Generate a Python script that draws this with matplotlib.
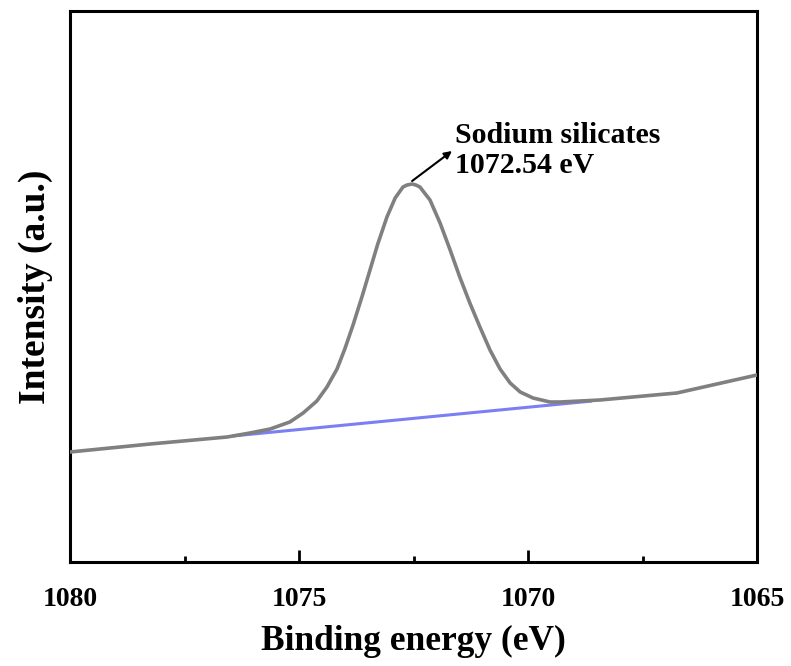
import matplotlib
matplotlib.use("Agg")
import matplotlib.pyplot as plt

# Binding energy (eV) and intensity (a.u.)
energy = [1080.0, 1078.25, 1076.57, 1076.07, 1075.63, 1075.20, 1074.91, 1074.61,
          1074.39, 1074.17, 1074.00, 1073.82, 1073.62, 1073.45, 1073.28, 1073.08,
          1072.90, 1072.73, 1072.64, 1072.53, 1072.45, 1072.36, 1072.14, 1071.92,
          1071.70, 1071.49, 1071.27, 1071.05, 1070.83, 1070.61, 1070.39, 1070.17,
          1069.89, 1069.52, 1069.30, 1068.43, 1066.75, 1065.0]
intensity = [110, 118, 125, 129, 133, 140, 149, 161,
             175, 193, 213, 237, 266, 292, 318, 345,
             364, 375, 377, 378, 377, 375, 362, 339,
             312, 285, 259, 235, 212, 193, 179, 170,
             164, 160, 160, 162, 169, 187]

baseline_energy = [1076.45, 1068.6]
baseline_intensity = [126, 161]

xticks = [1080, 1075, 1070, 1065]
minor_ticks = [1077.5, 1072.5, 1067.5]
peak_label = "Sodium silicates\n1072.54 eV"
arrow_tail = (1072.53, 381)
arrow_head = (1071.66, 411)
label_pos = (1071.59, 411.5)

plt.rcParams['font.family'] = ['Liberation Serif', 'DejaVu Serif']
plt.rcParams['font.weight'] = 'bold'

fig = plt.figure(figsize=(7.91, 6.66), dpi=100)
ax = fig.add_axes([70/791, 1-562/666, 687/791, 551/666])

ax.plot(baseline_energy, baseline_intensity, color='#7b7ff2', lw=2.2,
        solid_capstyle='butt', zorder=2)
ax.plot(energy, intensity, color='#808080', lw=2.6, zorder=3,
        solid_joinstyle='round')

ax.set_xlim(1080, 1065)
ax.set_ylim(0, 551)
ax.set_xticks(xticks)
ax.set_xticks(minor_ticks, minor=True)
ax.set_xticklabels([str(t) for t in xticks], fontsize=20, fontweight='bold')
ax.set_yticks([])
ax.tick_params(axis='x', which='major', direction='in', length=9, width=2, pad=18)
ax.tick_params(axis='x', which='minor', direction='in', length=4, width=2)
for s in ax.spines.values():
    s.set_linewidth(2.2)

ax.set_xlabel("Binding energy (eV)", fontsize=25.5, fontweight='bold', labelpad=9)
ax.set_ylabel("Intensity (a.u.)", fontsize=27, fontweight='bold', labelpad=12)

ax.text(label_pos[0], label_pos[1], peak_label, fontsize=21.5, fontweight='bold',
        ha='left', va='center', linespacing=1.15)
ax.annotate("", xy=arrow_head, xytext=arrow_tail,
            arrowprops=dict(arrowstyle='-|>', color='black', lw=1.5,
                            shrinkA=0, shrinkB=0, mutation_scale=11))

fig.savefig("out.png", dpi=100)
